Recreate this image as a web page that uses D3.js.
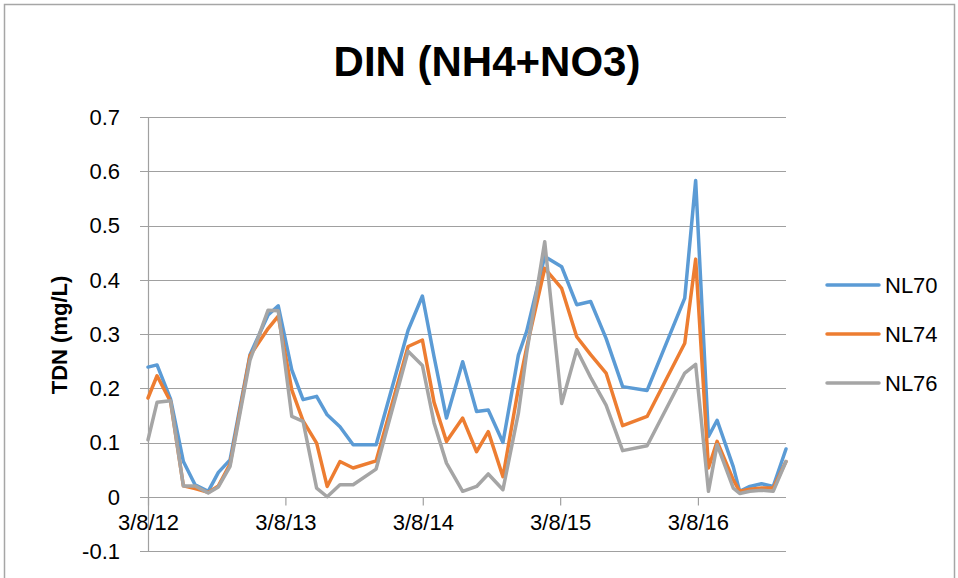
<!DOCTYPE html>
<html>
<head>
<meta charset="utf-8">
<script src="https://d3js.org/d3.v7.min.js"></script>
<style>
  body { margin: 0; background: #fff; }
  svg text { font-family: "Liberation Sans", Arial, sans-serif; fill: #000; }
</style>
</head>
<body>
<svg width="958" height="578"></svg>
<script>
// sample dates and DIN values
var dates = ["2012-03-08","2012-04-01","2012-05-07","2012-06-10","2012-07-11","2012-08-15","2012-09-11","2012-10-12",
  "2012-12-04","2013-01-21","2013-02-17","2013-03-25","2013-04-24","2013-05-30","2013-06-27","2013-07-31",
  "2013-09-04","2013-11-04","2014-01-28","2014-03-07","2014-04-07","2014-05-10","2014-06-22","2014-07-29",
  "2014-08-29","2014-10-07","2014-11-17","2014-12-09","2015-01-26","2015-03-12","2015-04-21","2015-05-28",
  "2015-07-08","2015-08-21","2015-10-25","2016-02-02","2016-03-02","2016-04-05","2016-04-28","2016-06-10",
  "2016-06-27","2016-07-24","2016-08-24","2016-09-24","2016-10-28"];
var nl70 = [0.239,0.243,0.180,0.065,0.022,0.010,0.045,0.068,0.262,0.335,0.352,0.234,0.179,0.185,0.151,0.129,
  0.096,0.096,0.307,0.370,0.258,0.145,0.249,0.157,0.160,0.100,0.261,0.305,0.443,0.424,0.354,0.360,
  0.292,0.203,0.196,0.366,0.583,0.111,0.141,0.055,0.010,0.019,0.024,0.019,0.088];
var nl74 = [0.182,0.223,0.175,0.020,0.015,0.008,0.020,0.060,0.260,0.310,0.333,0.197,0.140,0.099,0.019,0.065,
  0.053,0.066,0.277,0.289,0.174,0.102,0.145,0.083,0.120,0.037,0.200,0.275,0.421,0.384,0.295,0.262,
  0.228,0.131,0.148,0.283,0.438,0.053,0.102,0.031,0.010,0.014,0.016,0.016,0.065];
var nl76 = [0.105,0.174,0.177,0.020,0.020,0.007,0.018,0.056,0.252,0.344,0.343,0.148,0.139,0.016,0.000,0.022,
  0.022,0.051,0.268,0.242,0.136,0.062,0.010,0.019,0.042,0.013,0.154,0.265,0.470,0.172,0.271,0.220,
  0.169,0.085,0.094,0.228,0.244,0.010,0.096,0.016,0.006,0.010,0.012,0.010,0.065];
var seriesNames = ["NL70", "NL74", "NL76"];
var seriesColors = ["#5B9BD5", "#ED7D31", "#A5A5A5"];
var xTickLabels = ["3/8/12", "3/8/13", "3/8/14", "3/8/15", "3/8/16"];
var yTicks = [-0.1, 0, 0.1, 0.2, 0.3, 0.4, 0.5, 0.6, 0.7];
var yTickLabels = ["-0.1", "0", "0.1", "0.2", "0.3", "0.4", "0.5", "0.6", "0.7"];

var svg = d3.select("svg");
var parseDate = d3.timeParse("%Y-%m-%d");
var parseTick = d3.timeParse("%m/%d/%y");
var xDates = dates.map(parseDate);
var allSeries = [nl70, nl74, nl76];

// chart frame
svg.append("rect")
  .attr("x", 4.5).attr("y", 4.5)
  .attr("width", 950).attr("height", 590)
  .attr("fill", "none").attr("stroke", "#a6a6a6").attr("stroke-width", 1.5);

var x = d3.scaleTime()
  .domain([xDates[0], xDates[xDates.length - 1]])
  .range([148, 786]);
var y = d3.scaleLinear().domain([-0.1, 0.7]).range([551, 117]);

// gridlines
svg.append("g").selectAll("line")
  .data(yTicks)
  .enter().append("line")
  .attr("x1", 140).attr("x2", 786)
  .attr("y1", function(d) { return Math.round(y(d)) + 0.5; })
  .attr("y2", function(d) { return Math.round(y(d)) + 0.5; })
  .attr("stroke", "#a0a0a0").attr("stroke-width", 1.2);

// y axis line
svg.append("line")
  .attr("x1", 148.5).attr("x2", 148.5)
  .attr("y1", y(0.7)).attr("y2", y(-0.1))
  .attr("stroke", "#a0a0a0").attr("stroke-width", 1.2);

// y tick labels
svg.append("g").selectAll("text")
  .data(yTicks)
  .enter().append("text")
  .attr("x", 120)
  .attr("y", function(d) { return y(d); })
  .attr("dy", "0.36em")
  .attr("text-anchor", "end")
  .style("font-size", "22px")
  .text(function(d, i) { return yTickLabels[i]; });

// x axis on the zero line
var xAxis = d3.axisBottom(x)
  .tickValues(xTickLabels.map(function(s) { return parseTick(s); }))
  .tickFormat(function(d, i) { return xTickLabels[i]; })
  .tickSize(8).tickPadding(9);
var gx = svg.append("g")
  .attr("transform", "translate(0," + (Math.round(y(0)) + 0.5) + ")")
  .call(xAxis);
gx.select(".domain").remove();
gx.selectAll(".tick line").attr("stroke", "#a0a0a0").attr("stroke-width", 1.2);
gx.selectAll(".tick text")
  .style("font-size", "22px")
  .style("font-family", "'Liberation Sans', Arial, sans-serif")
  .attr("fill", "#000");

// series lines
var line = d3.line()
  .x(function(d, i) { return x(xDates[i]); })
  .y(function(d) { return y(d); });

svg.append("g").selectAll("path")
  .data(allSeries)
  .enter().append("path")
  .attr("d", line)
  .attr("fill", "none")
  .attr("stroke", function(d, i) { return seriesColors[i]; })
  .attr("stroke-width", 3.5)
  .attr("stroke-linejoin", "round")
  .attr("stroke-linecap", "round");

// title
svg.append("text")
  .attr("x", 487).attr("y", 76)
  .attr("text-anchor", "middle")
  .style("font-size", "42px").style("font-weight", "bold")
  .text("DIN (NH4+NO3)");

// y axis title
svg.append("text")
  .attr("transform", "translate(67,335) rotate(-90)")
  .attr("text-anchor", "middle")
  .style("font-size", "22px").style("font-weight", "bold")
  .text("TDN (mg/L)");

// legend
var legend = svg.append("g").selectAll("g")
  .data(seriesNames)
  .enter().append("g")
  .attr("transform", function(d, i) { return "translate(827," + (285 + i * 49) + ")"; });
legend.append("line")
  .attr("x1", 0).attr("x2", 52)
  .attr("stroke", function(d, i) { return seriesColors[i]; })
  .attr("stroke-width", 3.5).attr("stroke-linecap", "round");
legend.append("text")
  .attr("x", 58).attr("dy", "0.36em")
  .style("font-size", "22px")
  .text(function(d) { return d; });
</script>
</body>
</html>
